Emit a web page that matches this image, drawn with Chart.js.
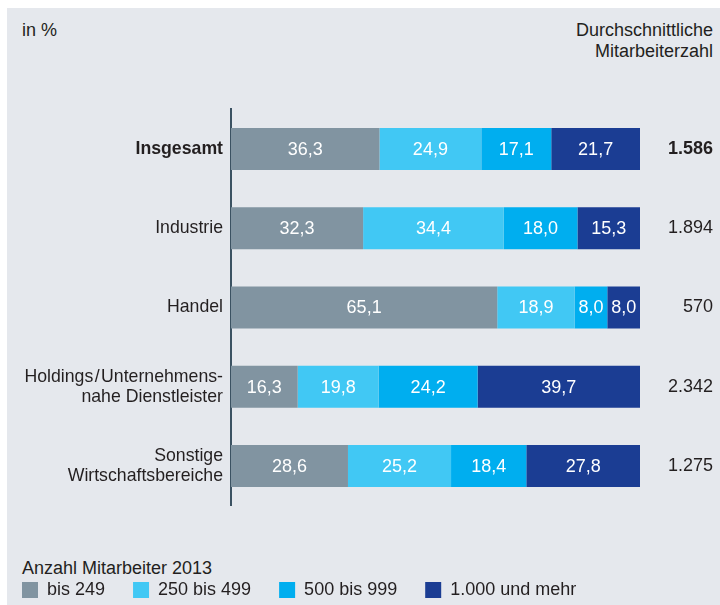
<!DOCTYPE html>
<html lang="de">
<head>
<meta charset="utf-8">
<script src="https://cdn.jsdelivr.net/npm/chart.js@4/dist/chart.umd.min.js"></script>
<style>
    html, body { margin: 0; padding: 0; background: #fff; width: 720px; height: 605px; overflow: hidden; }
    body { position: relative; font-family: 'Liberation Sans', Arial, sans-serif; color: #231f20; }
    #panel { position: absolute; left: 7px; top: 8px; width: 713px; height: 597px; background: #e5e8ed; }
    #grafico { position: absolute; left: -6px; top: 0; }
    .texto { position: absolute; font-size: 18px; line-height: 21px; white-space: nowrap; }
    #einheit { left: 22px; top: 20px; }
    #rechts { right: 7px; top: 20px; text-align: right; }
    #legendentitel { left: 22px; top: 558px; }
</style>
</head>
<body>
<div id="panel"></div>
<div class="texto" id="einheit">in %</div>
<div class="texto" id="rechts">Durchschnittliche<br>Mitarbeiterzahl</div>
<div class="texto" id="legendentitel">Anzahl Mitarbeiter 2013</div>
<canvas id="grafico" width="726" height="610"></canvas>
<script>
// Daten
const bereiche = [
    'Insgesamt',
    'Industrie',
    'Handel',
    ['Holdings\u200A/\u200AUnternehmens-', 'nahe Dienstleister'],
    ['Sonstige', 'Wirtschaftsbereiche']
];
const mitarbeiterzahl = ['1.586', '1.894', '570', '2.342', '1.275'];

const bis249 = [36.3, 32.3, 65.1, 16.3, 28.6];
const bis499 = [24.9, 34.4, 18.9, 19.8, 25.2];
const bis999 = [17.1, 18.0, 8.0, 24.2, 18.4];
const ab1000 = [21.7, 15.3, 8.0, 39.7, 27.8];

const gruppen = ['bis 249', '250 bis 499', '500 bis 999', '1.000 und mehr'];
const farben = ['#8194a1', '#41c8f4', '#00aeef', '#1b3d93'];

Chart.defaults.font.family = "'Liberation Sans', Arial, sans-serif";
Chart.defaults.font.size = 18;
Chart.defaults.color = '#231f20';

// Werte in die Balken schreiben
const werteImBalken = {
    id: 'werteImBalken',
    afterDatasetsDraw(chart) {
        const ctx = chart.ctx;
        ctx.save();
        ctx.fillStyle = '#ffffff';
        ctx.font = "18px 'Liberation Sans', Arial, sans-serif";
        ctx.textAlign = 'center';
        ctx.textBaseline = 'middle';
        chart.data.datasets.forEach((ds, i) => {
            chart.getDatasetMeta(i).data.forEach((bar, j) => {
                const texto = ds.data[j].toFixed(1).replace('.', ',');
                ctx.fillText(texto, (bar.x + bar.base) / 2, bar.y + 1);
            });
        });
        ctx.restore();
    }
};

new Chart(document.getElementById('grafico'), {
    type: 'bar',
    data: {
        labels: bereiche,
        datasets: [bis249, bis499, bis999, ab1000].map((werte, i) => ({
            label: gruppen[i],
            data: werte,
            backgroundColor: farben[i],
            borderWidth: 0,
            barPercentage: 0.53,
            categoryPercentage: 1
        }))
    },
    options: {
        indexAxis: 'y',
        responsive: false,
        animation: false,
        layout: { padding: { left: 0, right: 7, top: 109.4, bottom: 1 } },
        scales: {
            x: {
                stacked: true,
                min: 0,
                max: 100,
                grid: { display: false, drawTicks: false },
                border: { display: false },
                ticks: { display: false },
                afterFit: s => { s.height = 47.4; }
            },
            y: {
                stacked: true,
                grid: { display: false, drawTicks: false },
                border: { display: true, color: '#3b5262', width: 2 },
                ticks: {
                    padding: 8,
                    color: '#231f20',
                    font: c => ({ size: 17.7, lineHeight: 1.13, weight: c.index === 0 ? 'bold' : 'normal' })
                },
                afterFit: s => { s.width = 237; }
            },
            y2: {
                type: 'category',
                labels: mitarbeiterzahl,
                position: 'right',
                offset: true,
                grid: { display: false, drawTicks: false },
                border: { display: false },
                ticks: {
                    crossAlign: 'far',
                    padding: 0,
                    color: '#231f20',
                    font: c => ({ size: 18, weight: c.index === 0 ? 'bold' : 'normal' })
                },
                afterFit: s => { s.width = 73; }
            }
        },
        plugins: {
            legend: {
                position: 'bottom',
                align: 'start',
                labels: {
                    boxWidth: 16,
                    boxHeight: 16,
                    padding: 28,
                    color: '#231f20',
                    font: { size: 18 }
                }
            },
            tooltip: { enabled: false }
        }
    },
    plugins: [werteImBalken]
});
</script>
</body>
</html>
